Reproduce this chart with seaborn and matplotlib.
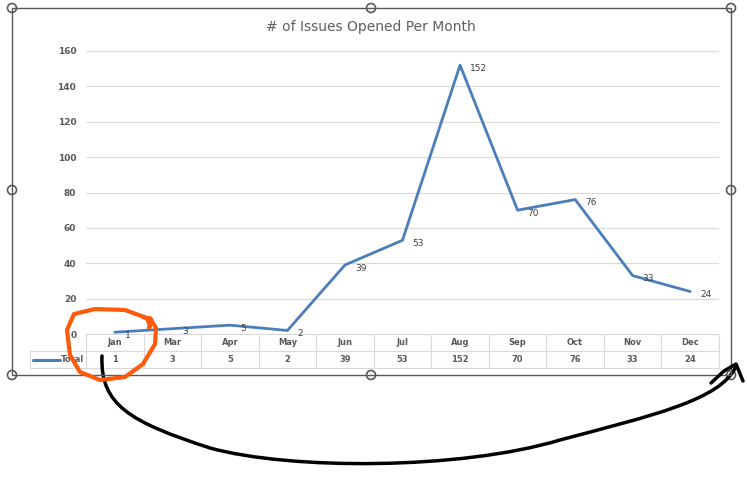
import matplotlib
matplotlib.use("Agg")
import matplotlib.pyplot as plt
import seaborn as sns
import pandas as pd
from matplotlib.patches import Circle
from matplotlib.path import Path
from matplotlib.patches import PathPatch
import matplotlib.transforms as mtransforms

months = ["Jan", "Mar", "Apr", "May", "Jun", "Jul", "Aug", "Sep", "Oct", "Nov", "Dec"]
totals = [1, 3, 5, 2, 39, 53, 152, 70, 76, 33, 24]
y_ticks = [0, 20, 40, 60, 80, 100, 120, 140, 160]
series_name = "Total"
title = "# of Issues Opened Per Month"

sns.set_theme(style="white")
plt.rcParams["font.family"] = ["DejaVu Sans"]

W, H = 747, 497
fig = plt.figure(figsize=(W / 100, H / 100), dpi=100)
fig.patch.set_facecolor("white")

def fx(px):
    return px / W

def fy(py):
    return 1 - py / H

left, right, top, bottom = 86, 719, 51, 334
ax = fig.add_axes([fx(left), fy(bottom), fx(right - left), (bottom - top) / H])

df = pd.DataFrame({"pos": list(range(len(months))), "value": totals})
line_color = "#4a7ebb"
sns.lineplot(data=df, x="pos", y="value", ax=ax, color=line_color, linewidth=2.0)

ax.set_xlim(-0.5, len(months) - 0.5)
ax.set_ylim(0, 160)
ax.set_yticks(y_ticks)
ax.set_yticklabels([str(t) for t in y_ticks], fontsize=6.5, fontweight="bold", color="#595959")
ax.tick_params(axis="y", length=0, pad=7)
ax.set_xticks([])
ax.set_xlabel("")
ax.set_ylabel("")
for s in ax.spines.values():
    s.set_visible(False)
ax.grid(axis="y", color="#d9d9d9", linewidth=0.8)
ax.set_axisbelow(True)
ax.set_facecolor("none")

for i, v in enumerate(totals):
    ax.annotate(str(v), (i, v), xytext=(10, -3), textcoords="offset pixels",
                fontsize=6.5, color="#404040", va="center", ha="left")

# data table
grid_c = "#d9d9d9"
row_h = 17 / (bottom - top)
trans = mtransforms.blended_transform_factory(ax.transData, ax.transAxes)
n = len(months)
for k in range(3):
    ax.plot([-0.5, n - 0.5], [-k * row_h] * 2, transform=trans, color=grid_c, lw=0.8, clip_on=False)
for i in range(n + 1):
    ax.plot([i - 0.5, i - 0.5], [0, -2 * row_h], transform=trans, color=grid_c, lw=0.8, clip_on=False)
for i, (m, v) in enumerate(zip(months, totals)):
    ax.text(i, -0.5 * row_h, m, transform=trans, ha="center", va="center",
            fontsize=6, fontweight="bold", color="#595959")
    ax.text(i, -1.5 * row_h, str(v), transform=trans, ha="center", va="center",
            fontsize=6, fontweight="bold", color="#595959")

# legend cell
lx0 = 30
fig.add_artist(plt.Line2D([fx(lx0), fx(left)], [fy(351), fy(351)], color=grid_c, lw=0.8))
fig.add_artist(plt.Line2D([fx(lx0), fx(left)], [fy(368), fy(368)], color=grid_c, lw=0.8))
fig.add_artist(plt.Line2D([fx(lx0), fx(lx0)], [fy(351), fy(368)], color=grid_c, lw=0.8))
fig.add_artist(plt.Line2D([fx(33), fx(60)], [fy(359.5), fy(359.5)], color=line_color, lw=2.2))
fig.text(fx(61), fy(359.5), series_name, ha="left", va="center", fontsize=6,
         fontweight="bold", color="#595959")

fig.text(fx(371), fy(27), title, ha="center", va="center", fontsize=10, color="#606060")

# overlay for frame & annotations (pixel coords)
ov = fig.add_axes([0, 0, 1, 1], zorder=10)
ov.set_xlim(0, W)
ov.set_ylim(H, 0)
ov.axis("off")
ov.patch.set_alpha(0)
frame_c = "#595959"
ov.plot([12, 731, 731, 12, 12], [8, 8, 375, 375, 8], color=frame_c, lw=1.0)
for (hx, hy) in [(12, 8), (371, 8), (731, 8), (12, 190), (731, 190), (12, 375), (371, 375), (731, 375)]:
    ov.add_patch(Circle((hx, hy), 4.5, facecolor="white", edgecolor=frame_c, lw=1.2))

# orange loop
orange = [(150, 326), (147, 318), (125, 310), (95, 309), (74, 314), (67, 330),
          (70, 355), (80, 372), (100, 380), (125, 377), (143, 364), (155, 344), (156, 328),
          (150, 318)]
ov.plot([p[0] for p in orange], [p[1] for p in orange], color="#ff5a0a", lw=3,
        solid_capstyle="round", solid_joinstyle="round")
ov.plot([143, 151, 149], [317, 320, 328], color="#ff5a0a", lw=3, solid_capstyle="round")

# black arrow curve
verts = [(102, 356),
         (100, 405), (130, 422), (210, 448),
         (290, 470), (460, 470), (560, 440),
         (650, 416), (722, 400), (736, 366)]
codes = [Path.MOVETO] + [Path.CURVE4] * 9
ov.add_patch(PathPatch(Path(verts, codes), facecolor="none", edgecolor="black", lw=2.5,
                       capstyle="round"))
ov.plot([711, 724, 736, 743], [383, 371, 364, 381], color="black", lw=2.5,
        solid_capstyle="round", solid_joinstyle="round")

fig.savefig("out.png", dpi=100, facecolor="white")
